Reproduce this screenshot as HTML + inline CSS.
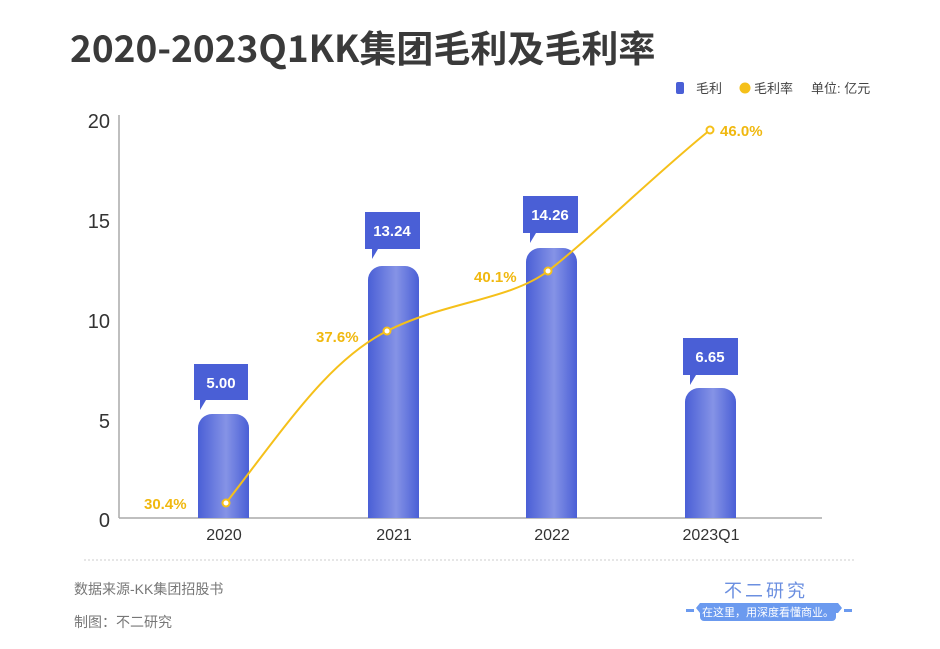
<!DOCTYPE html>
<html><head><meta charset="utf-8"><style>
html,body{margin:0;padding:0;background:#fff;}
body{width:940px;height:644px;overflow:hidden;font-family:"Liberation Sans","Noto Sans CJK SC",sans-serif;}
</style></head><body>
<svg width="940" height="644" viewBox="0 0 940 644" xmlns="http://www.w3.org/2000/svg" font-family="Liberation Sans, Noto Sans CJK SC, sans-serif">
<defs>
<linearGradient id="bg" x1="0" x2="1" y1="0" y2="0">
<stop offset="0" stop-color="#4a5fd6"/><stop offset="0.55" stop-color="#8593e6"/><stop offset="1" stop-color="#4a5fd6"/>
</linearGradient>
</defs>
<text x="70" y="62" font-size="37" font-weight="bold" fill="#3a3a3a" font-family="Noto Sans CJK SC, sans-serif">2020-2023Q1KK集团毛利及毛利率</text>
<!-- legend -->
<rect x="676" y="82" width="8" height="12" rx="2" fill="#4a5fd6"/>
<text x="696" y="93" font-size="13" fill="#444">毛利</text>
<circle cx="745" cy="88" r="5.5" fill="#f5c01a"/>
<text x="754" y="93" font-size="13" fill="#444">毛利率</text>
<text x="811" y="93" font-size="13" fill="#444">单位: 亿元</text>
<!-- axes -->
<line x1="119" y1="115" x2="119" y2="518" stroke="#aaa" stroke-width="1.5"/>
<line x1="119" y1="518" x2="822" y2="518" stroke="#aaa" stroke-width="1.5"/>
<g font-size="20" fill="#333" text-anchor="end">
<text x="110" y="128">20</text><text x="110" y="228">15</text><text x="110" y="328">10</text><text x="110" y="428">5</text><text x="110" y="527">0</text>
</g>
<g font-size="16" fill="#333" text-anchor="middle">
<text x="224" y="540">2020</text><text x="394" y="540">2021</text><text x="552" y="540">2022</text><text x="711" y="540">2023Q1</text>
</g>
<!-- bars -->
<path d="M198 518 V428 a14 14 0 0 1 14 -14 h23 a14 14 0 0 1 14 14 V518 Z" fill="url(#bg)"/>
<path d="M368 518 V280 a14 14 0 0 1 14 -14 h23 a14 14 0 0 1 14 14 V518 Z" fill="url(#bg)"/>
<path d="M526 518 V262 a14 14 0 0 1 14 -14 h23 a14 14 0 0 1 14 14 V518 Z" fill="url(#bg)"/>
<path d="M685 518 V402 a14 14 0 0 1 14 -14 h23 a14 14 0 0 1 14 14 V518 Z" fill="url(#bg)"/>
<!-- callouts -->
<g fill="#4a5fd6">
<path d="M194 364 h54 v36 h-42 l-6 10 v-10 h-6 Z"/>
<path d="M365 212 h55 v37 h-42 l-6 10 v-10 h-7 Z"/>
<path d="M523 196 h55 v37 h-42 l-6 10 v-10 h-7 Z"/>
<path d="M683 338 h55 v37 h-42 l-6 10 v-10 h-7 Z"/>
</g>
<g font-size="15" font-weight="bold" fill="#fff" text-anchor="middle">
<text x="221" y="388">5.00</text><text x="392" y="236">13.24</text><text x="550" y="220">14.26</text><text x="710" y="362">6.65</text>
</g>
<!-- line -->
<path d="M226 503 C 290 420, 330 360, 387 331 S 510 300, 548 271 S 660 170, 710 130" fill="none" stroke="#f5c01a" stroke-width="2"/>
<g fill="#fff" stroke="#f5c01a" stroke-width="2">
<circle cx="226" cy="503" r="3.5"/><circle cx="387" cy="331" r="3.5"/><circle cx="548" cy="271" r="3.5"/><circle cx="710" cy="130" r="3.5"/>
</g>
<g font-size="15" font-weight="bold" fill="#f0b80f">
<text x="144" y="509">30.4%</text><text x="316" y="342">37.6%</text><text x="474" y="282">40.1%</text><text x="720" y="136">46.0%</text>
</g>
<!-- footer -->
<line x1="84" y1="560" x2="856" y2="560" stroke="#ccc" stroke-dasharray="2,2"/>
<text x="74" y="594" font-size="14" fill="#777">数据来源-KK集团招股书</text>
<text x="74" y="627" font-size="14" fill="#777">制图：不二研究</text>
<text x="766" y="597" font-size="18" fill="#6b8fe0" text-anchor="middle" letter-spacing="3">不二研究</text>
<path d="M700 603 h138 l4 5 l-4 5 h-138 l-4 -5 Z" fill="#6b9aef"/>
<rect x="700" y="603" width="136" height="18" rx="4" fill="#6b9aef"/>
<rect x="686" y="609" width="8" height="3" fill="#6b9aef"/><rect x="844" y="609" width="8" height="3" fill="#6b9aef"/>
<text x="768" y="616" font-size="11" fill="#fff" text-anchor="middle">在这里，用深度看懂商业。</text>
</svg>
</body></html>
